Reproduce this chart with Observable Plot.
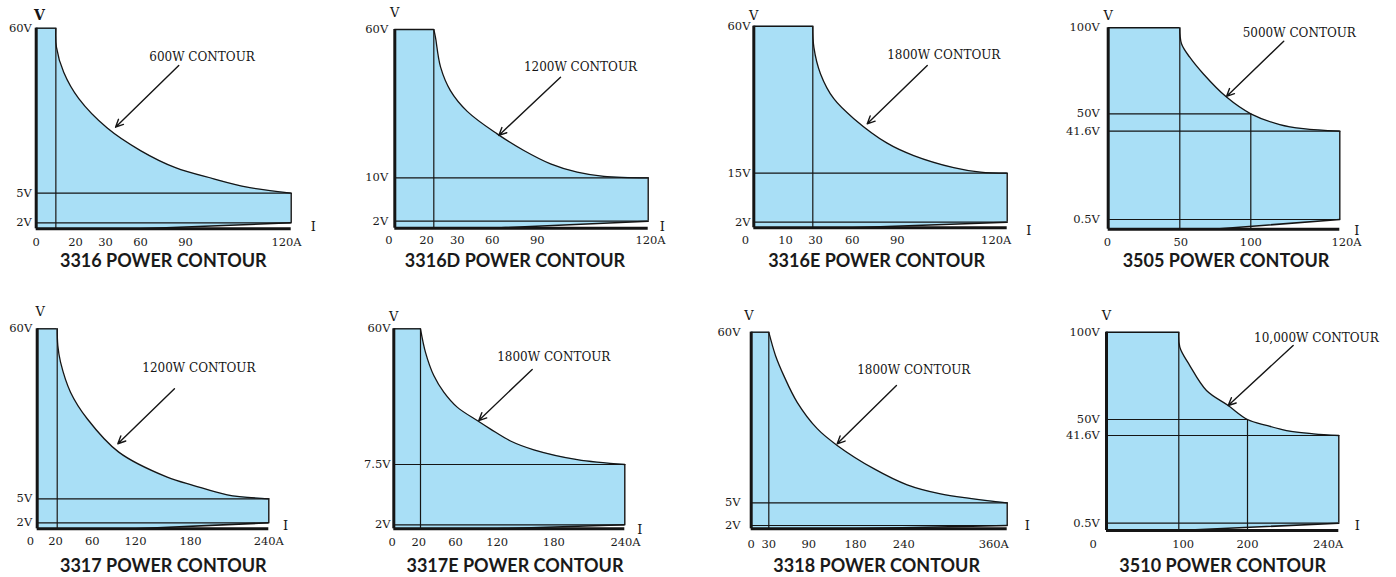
<!DOCTYPE html>
<html><head><meta charset="utf-8">
<script src="https://cdn.jsdelivr.net/npm/d3@7"></script>
<script src="https://cdn.jsdelivr.net/npm/@observablehq/plot@0.6"></script>
<style>
body{margin:0;background:#fff;}
#root{position:relative;width:1396px;height:577px;overflow:hidden;background:#fff;}
.panel{position:absolute;}
.panel svg{overflow:visible;background:transparent;}
.title{position:absolute;font-family:Lato,"Open Sans",sans-serif;font-weight:700;font-size:18px;line-height:1;color:#1a1a1a;white-space:nowrap;transform:translate(-50%,-50%);}
</style></head><body><div id="root"></div>
<script>
// ---------- data ----------
const models = ["3316","3316D","3316E","3505","3317","3317E","3318","3510"];
const contourLabels = ["600W CONTOUR","1200W CONTOUR","1800W CONTOUR","5000W CONTOUR","1200W CONTOUR","1800W CONTOUR","1800W CONTOUR","10,000W CONTOUR"];
const xTicks = [[0,20,30,60,90,120],[0,20,30,60,90,120],[0,10,30,60,90,120],[0,50,100,120],[0,20,60,120,180,240],[0,20,60,120,180,240],[0,30,90,180,240,360],[0,100,200,240]];
const yTicks = [[2,5,60],[2,10,60],[2,15,60],[0.5,41.6,50,100],[2,5,60],[2,7.5,60],[2,5,60],[0.5,41.6,50,100]];
// power contour (current A, voltage V) (diagram is not to scale)
const curveI = [
 [10,10.3,14.0,21.1,31.5,60,83.3,98.0,107.5,120],
 [20,20.7,22.9,27.1,38.6,63.3,81.1,93.6,100.8,108,120],
 [30,30.8,35.9,46,61.1,83.3,94.5,105.4,112.7,120],
 [50,51.2,57,66.5,82.9,100,106.5,111.8,120],
 [20,20.7,23.8,35.2,54.3,96.8,154.6,182.5,208.1,240],
 [20,25.7,35.2,46.6,62.4,91.2,110.4,134.1,158.8,199.8,240],
 [30,40,52.5,72.6,106.2,144.7,202.7,243.9,282.6,360],
 [100,101.5,116,140.3,171.9,200,208.3,217.1,228.8,240]
];
const curveV = [
 [60,53.7,45.3,36.5,26.7,19.2,13.5,9.8,7.0,5],
 [60,57.4,47.3,39.4,32.4,24.8,19.2,14.7,11.9,10.5,10],
 [60,53.6,45.4,37.8,31.7,24.2,20.4,16.7,15.3,15],
 [100,90.7,82.9,73.3,59.7,50,44.8,42.8,41.6],
 [60,54.6,49.2,39.5,30.9,20.1,12.0,9.3,6.3,5],
 [60,50.9,41.9,35.5,29.7,24.5,21.2,16.6,13.2,9.4,7.5],
 [60,52.5,46.0,37.4,28.9,23.5,16.0,10.8,7.9,5],
 [100,91.4,80.9,66.6,58.0,50,46.9,44.2,42.5,41.6]
];
// horizontal guide lines: [voltage, end current]
const hLines = [
 [[5,120],[2,120]], [[10,120],[2,120]], [[15,120],[2,120]], [[50,100],[41.6,120],[0.5,120]],
 [[5,240],[2,240]], [[7.5,240],[2,240]], [[5,360],[2,360]], [[50,200],[41.6,240],[0.5,240]]
];
// vertical guide lines: [current, top voltage]
const vLines = [
 [[10,60]], [[20,60]], [[30,60]], [[50,100],[100,50]],
 [[20,60]], [[20,60]], [[30,60]], [[100,100],[200,50]]
];
// current where the minimum-voltage line leaves the I axis
const minStart = [60,60,60,73.5,120,120,180,100];
// annotation text anchor [I, V] and arrow [I1, V1, I2, V2]
const annot = [[94.7,50.3],[101.7,47.3],[102.7,51.0],[110.9,97.1],[186.4,47.2],[180,49.0],[251.6,47.7],[230.2,96.6]];
const arrows = [[85.5,47.6,38.6,27],[96.3,43.9,64.4,24.3],[98.2,48.0,70,30.1],[107.4,92.2,82.9,60.1],[162.5,40.6,95.5,22.8],[157.1,44.3,93.5,24.5],[230.9,42.8,144.7,24.0],[220,92.4,171.9,58.0]];
const vLab = [[1.7,64.2],[0,65.5],[0,63.3],[0,107.2],[3,65.4],[0,64.5],[-4,65.4],[0,109.6]];
const iLab = [[126.3,0.5],[123.8,0.3],[125.9,-1],[123.8,-0.07],[252.8,1.1],[252.7,-0.35],[383.2,2],[248.1,0.34]];

// ---------- layout (schematic, hand-placed scale breakpoints) ----------
const layout = [
 {left:0,top:0,h:252,xr:[35.7,75,105,140,185,290.7],yr:[228.3,222.3,192.7,27.7],xdx:[0,0,0,0,0,-4.7],ypad:4.3,xpad:9,tx:163.3,ty:260,vBold:true},
 {left:350,top:0,h:252,xr:[44.3,83.3,106.7,141.7,186.7,297.7],yr:[227.7,220.7,177.3,29],xdx:[-6,-7.3,0,0,0,2.3],ypad:6.6,xpad:8,tx:515,ty:260},
 {left:700,top:0,h:252,xr:[53.3,85,112.3,151.7,196.7,306.7],yr:[227.3,221.7,172.7,25.7],xdx:[-8.3,0,2.7,0,0,-11],ypad:3.3,xpad:8.5,tx:876.7,ty:260},
 {left:1046,top:0,h:252,xr:[61.7,133.3,204.3,293.3],yr:[228.7,219,130.7,113.3,27.3],xdx:[-0.7,1,0,6.7],ypad:8.4,xpad:9,tx:1226,ty:260},
 {left:0,top:295,h:256,xr:[36.7,56.7,91.7,135,190,268.3],yr:[233.3,227.3,203.3,33.3],xdx:[-6.7,-1.7,0,0,0,0],ypad:5,xpad:8.5,tx:163.3,ty:565},
 {left:350,top:295,h:256,xr:[43.3,70,105,146.7,203.3,274.3],yr:[233.3,229.3,169,33.3],xdx:[-1.6,-1.7,0,0,0,0.7],ypad:3.3,xpad:9,tx:515,ty:565},
 {left:700,top:295,h:256,xr:[50.7,68.3,108.3,155,203.3,306.7],yr:[233.3,230,207.3,36.7],xdx:[0,0,0,0,0,-13.4],ypad:10.7,xpad:11,tx:876.7,ty:565},
 {left:1046,top:295,h:256,xr:[60,132.3,201,292.3],yr:[235,227.7,140,124,36.7],xdx:[-13.3,4.4,0,-10.6],ypad:6.7,xpad:9,tx:1222.7,ty:565}
];
const BLUE = "#a9dff6";
const INK = "#151515";
const W = 350;
const TICK_FS = 11.5;

const root = document.getElementById("root");

models.forEach((model, k) => {
  const L = layout[k];
  const xs = xTicks[k];
  const ys = [0, ...yTicks[k]];
  const Imax = xs[xs.length - 1];
  const Vmax = ys[ys.length - 1];
  const Vlow = yTicks[k][0];
  const curve = curveI[k].map((I, j) => ({I, V: curveV[k][j]}));
  const Itop = curve[0].I;
  const Vknee = curve[curve.length - 1].V;
  const wedge = [{I: minStart[k], V: 0}, {I: Imax, V: Vlow}, {I: Imax, V: 0}];
  const H = L.h;

  const xAxes = xs.map((t, j) => Plot.axisX({
    ticks: [t], tickSize: 0, tickPadding: L.xpad, dx: L.xdx[j], label: null,
    tickFormat: j === xs.length - 1 ? (d => d + "A") : (d => String(d)),
    fontSize: TICK_FS
  }));

  const marks = [
    // shaded operating region
    Plot.rectY([{}], {x1: 0, x2: Itop, y1: 0, y2: Vmax, fill: BLUE, inset: 0}),
    Plot.areaY(curve, {x: "I", y1: 0, y2: "V", fill: BLUE, curve: "catmull-rom"}),
    Plot.line(wedge, {x: "I", y: "V", fill: "white", stroke: "none"}),
    // guide lines
    Plot.ruleY(hLines[k].map(([V, I2]) => ({V, I2})), {y: "V", x1: 0, x2: "I2", stroke: INK, strokeWidth: 1.2}),
    Plot.ruleX(vLines[k].map(([I, V2]) => ({I, V2})), {x: "I", y1: 0, y2: "V2", stroke: INK, strokeWidth: 1.2}),
    Plot.ruleY([Vmax], {x1: 0, x2: Itop, stroke: INK, strokeWidth: 1.4}),
    Plot.ruleX([Imax], {y1: Vlow, y2: Vknee, stroke: INK, strokeWidth: 1.4}),
    Plot.line([{I: minStart[k], V: 0}, {I: Imax, V: Vlow}], {x: "I", y: "V", stroke: INK, strokeWidth: 1.6}),
    Plot.line(curve, {x: "I", y: "V", stroke: INK, strokeWidth: 1.3, curve: "catmull-rom"}),
    // axes
    Plot.ruleX([0], {y1: 0, y2: Vmax, stroke: INK, strokeWidth: 3}),
    Plot.ruleY([0], {x1: 0, x2: Imax, stroke: INK, strokeWidth: 3}),
    ...xAxes,
    Plot.axisY({ticks: yTicks[k], tickSize: 0, tickPadding: L.ypad, label: null, tickFormat: d => d + "V", fontSize: TICK_FS}),
    // annotation
    Plot.text([{I: annot[k][0], V: annot[k][1], t: contourLabels[k]}], {x: "I", y: "V", text: "t", fontSize: 12, fill: INK}),
    Plot.arrow([{x1: arrows[k][0], y1: arrows[k][1], x2: arrows[k][2], y2: arrows[k][3]}], {x1: "x1", y1: "y1", x2: "x2", y2: "y2", stroke: INK, strokeWidth: 1.4, headLength: 9, headAngle: 50}),
    Plot.text([{I: vLab[k][0], V: vLab[k][1]}], {x: "I", y: "V", text: () => "V", fontSize: L.vBold ? 14 : 13, fontWeight: L.vBold ? "bold" : "normal", fill: INK}),
    Plot.text([{I: iLab[k][0], V: iLab[k][1]}], {x: "I", y: "V", text: () => "I", fontSize: 13, fill: INK})
  ];

  const svg = Plot.plot({
    width: W, height: H,
    marginLeft: L.xr[0], marginRight: W - L.xr[L.xr.length - 1],
    marginTop: L.yr[L.yr.length - 1], marginBottom: H - L.yr[0],
    x: {type: "linear", domain: xs, range: L.xr},
    y: {type: "linear", domain: ys, range: L.yr},
    style: {fontFamily: "'DejaVu Serif', serif", fontSize: "11px", color: "#1a1a1a", background: "transparent", overflow: "visible"},
    marks
  });
  const div = document.createElement("div");
  div.className = "panel";
  div.style.left = L.left + "px";
  div.style.top = L.top + "px";
  div.appendChild(svg);
  root.appendChild(div);

  const t = document.createElement("div");
  t.className = "title";
  t.style.left = L.tx + "px";
  t.style.top = L.ty + "px";
  t.textContent = model + " POWER CONTOUR";
  root.appendChild(t);
});
</script>
</body></html>
